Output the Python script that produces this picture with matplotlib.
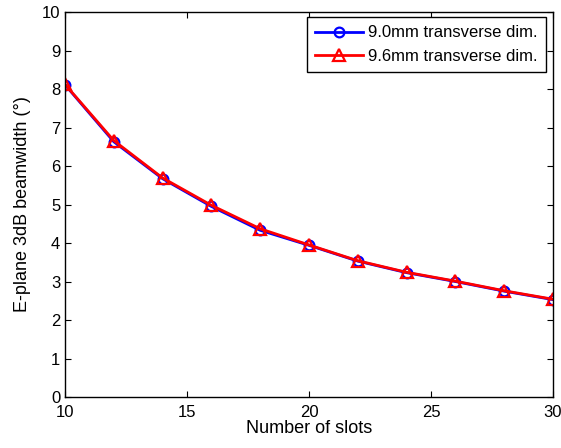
import matplotlib
matplotlib.use("Agg")
import matplotlib.pyplot as plt

plt.rcParams['font.family'] = ['Liberation Sans', 'DejaVu Sans']

slots = [10, 12, 14, 16, 18, 20, 22, 24, 26, 28, 30]
bw_90 = [8.11, 6.63, 5.67, 4.95, 4.33, 3.94, 3.53, 3.23, 3.00, 2.75, 2.53]
bw_96 = [8.12, 6.66, 5.69, 4.98, 4.37, 3.95, 3.54, 3.24, 3.01, 2.76, 2.54]
labels = ['9.0mm transverse dim.', '9.6mm transverse dim.']

fig = plt.figure(figsize=(5.61, 4.48), dpi=100)
ax = fig.add_axes([0.1159, 0.1138, 0.8698, 0.8594])

ax.plot(slots, bw_90, '-o', color='blue', lw=2, ms=7, mfc='none', mew=1.6,
        label=labels[0])
ax.plot(slots, bw_96, '-^', color='red', lw=2, ms=8, mfc='none', mew=1.6,
        label=labels[1])

ax.set_xlim(10, 30)
ax.set_ylim(0, 10)
ax.set_xticks([10, 15, 20, 25, 30])
ax.set_yticks(range(0, 11))
ax.tick_params(direction='in', top=True, right=True, labelsize=12,
               length=4, width=0.8)
ax.tick_params(axis='x', pad=6)
for s in ax.spines.values():
    s.set_linewidth(1.0)

ax.set_xlabel('Number of slots', fontsize=13, labelpad=0)
ax.set_ylabel('E-plane 3dB beamwidth (°)', fontsize=13, labelpad=8)

leg = ax.legend(loc='upper right', fontsize=12, fancybox=False,
                edgecolor='black', framealpha=1, handlelength=2.9,
                handletextpad=0.3, labelspacing=0.5, borderpad=0.5,
                borderaxespad=0.0, bbox_to_anchor=(0.986, 0.987))
leg.get_frame().set_linewidth(1.0)

fig.savefig('out.png', dpi=100)
